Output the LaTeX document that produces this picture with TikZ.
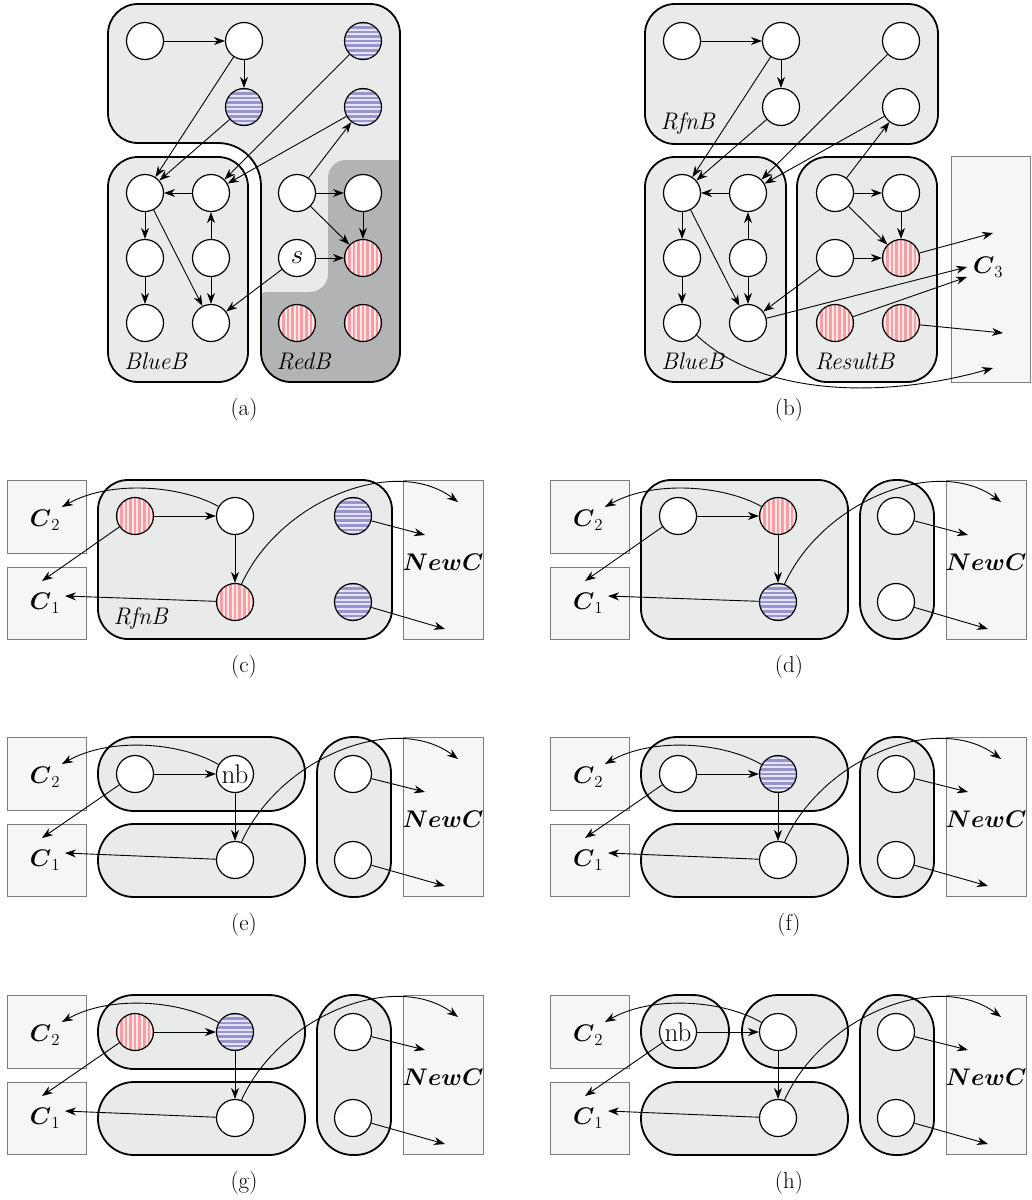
\RequirePackage{fix-cm}
\documentclass[tikz,border=0pt]{standalone}
\usepackage{amsmath, amssymb}
\usetikzlibrary{arrows.meta}

\definecolor{boxfill}{RGB}{233,235,234}
\definecolor{redbfill}{RGB}{178,179,181}
\definecolor{cfill}{RGB}{246,246,246}
\definecolor{cline}{RGB}{125,125,125}
\definecolor{bluest}{RGB}{150,150,205}
\definecolor{bluelt}{RGB}{228,228,246}
\definecolor{redst}{RGB}{245,158,164}
\definecolor{redlt}{RGB}{253,230,232}

\newcommand\redbshape{(138,4) -- (370,4) .. controls (386.6,4) and (400,17.4) .. (400,34) -- (400,352) .. controls (400,368.6) and (386.6,382) .. (370,382) -- (291,382) .. controls (274.4,382) and (261,368.6) .. (261,352) -- (261,186) .. controls (261,162.3) and (241.7,143) .. (218,143) -- (138,143) .. controls (121.4,143) and (108,129.6) .. (108,113) -- (108,34) .. controls (108,17.4) and (121.4,4) .. (138,4) -- cycle}

\newcommand\coreedges{%
\draw[arr] (p1) -- (p2);
\draw[arr] (p2) -- (p4);
\draw[arr] (p2) -- (b1);
\draw[arr] (p4) -- (b1);
\draw[arr] (p3) -- (b2);
\draw[arr] (p5) -- (b2);
\draw[arr] (r1) -- (p5);
\draw[arr] (r1) -- (r2);
\draw[arr] (r1) -- (r4);
\draw[arr] (r2) -- (r4);
\draw[arr] (r3) -- (r4);
\draw[arr] (r3) -- (b6);
\draw[arr] (b2) -- (b1);
\draw[arr] (b1) -- (b3);
\draw[arr] (b3) -- (b5);
\draw[arr] (b1) -- (b6);
\draw[arr] (b4) -- (b2);
\draw[arr] (b4) -- (b6);
}

\newcommand\sidecols{%
\draw[cbox] (7,0) rectangle (86,73);
\draw[cbox] (7,87) rectangle (86,159);
\draw[cbox] (403,0) rectangle (483,159);
\node[lbl] (c2) at (45,40) {$\boldsymbol{C}_2$};
\node[lbl] (c1) at (45,123) {$\boldsymbol{C}_1$};
\node[lbl] (newc) at (443,82) {$\boldsymbol{NewC}$};
\coordinate (toc2) at (62,27);
\coordinate (toc1a) at (42,101);
\coordinate (toc1b) at (65,116);
\coordinate (tonew) at (458,22);
\coordinate (tonewa) at (425,55);
\coordinate (tonewb) at (445,149);
\draw[arr] (v1) -- (v2);
\draw[arr] (v2) -- (v4);
\draw[arr] (v2.150) .. controls (180,5) and (110,0) .. (toc2);
\draw[arr] (v1) -- (toc1a);
\draw[arr] (v4) -- (toc1b);
\draw[arr] (v4.70) .. controls (280,20) and (395,-25) .. (tonew);
\draw[arr] (v3) -- (tonewa);
\draw[arr] (v5) -- (tonewb);
}

\begin{document}
\begin{tikzpicture}[x=1pt, y=-1pt,
  vtx/.style={circle, draw, line width=1.2pt, minimum size=37pt, inner sep=0pt, font=\fontsize{27}{30}\selectfont},
  wvtx/.style={vtx, fill=white},
  bvtx/.style={vtx, fill=bluelt, path picture={
    \foreach \k in {-5,...,5}
      \fill[bluest] ([shift={(-20pt,\k*4.6pt-1.3pt)}]path picture bounding box.center) rectangle +(40pt,2.6pt);}},
  rvtx/.style={vtx, fill=redlt, path picture={
    \foreach \k in {-5,...,5}
      \fill[redst] ([shift={(\k*4.6pt-1.3pt,-20pt)}]path picture bounding box.center) rectangle +(2.6pt,40pt);}},
  blk/.style={draw, line width=1.8pt, fill=boxfill, rounded corners=30pt},
  pill/.style={blk, rounded corners=36pt},
  cbox/.style={draw=cline, line width=0.7pt, fill=cfill},
  lbl/.style={font=\fontsize{24}{28}\selectfont},
  capt/.style={font=\fontsize{23}{27}\selectfont},
  arr/.style={-{Stealth[length=11pt, width=8pt, inset=3.5pt]}, line width=0.9pt}]
\useasboundingbox (0,0) rectangle (1032,1200);

\begin{scope}[name prefix=a-]
\fill[boxfill] \redbshape;
\begin{scope}
\clip \redbshape;
\fill[redbfill, rounded corners=18pt] (250,292) -- (328,292) -- (328,160) -- (420,160) -- (420,400) -- (250,400) -- cycle;
\end{scope}
\draw[line width=1.8pt] \redbshape;
\draw[blk] (108,157) rectangle (248,382);
\node[lbl] (bluelbl) at (156,361) {\textit{BlueB}};
\node[lbl] (redlbl) at (304,361) {\textit{RedB}};
\node[wvtx] (p1) at (145,41) {};
\node[wvtx] (p2) at (244,41) {};
\node[bvtx] (p3) at (363,41) {};
\node[bvtx] (p4) at (244,107) {};
\node[bvtx] (p5) at (363,107) {};
\node[wvtx] (b1) at (145,193) {};
\node[wvtx] (b2) at (211,193) {};
\node[wvtx] (b3) at (145,258) {};
\node[wvtx] (b4) at (211,258) {};
\node[wvtx] (b5) at (145,323) {};
\node[wvtx] (b6) at (211,323) {};
\node[wvtx] (r1) at (297,193) {};
\node[wvtx] (r2) at (363,193) {};
\node[wvtx] (r3) at (297,258) {$s$};
\node[rvtx] (r4) at (363,258) {};
\node[rvtx] (r5) at (297,323) {};
\node[rvtx] (r6) at (363,323) {};
\coreedges
\end{scope}

\begin{scope}[shift={(537,0)}, name prefix=b-]
\draw[blk] (108,4) rectangle (401,144);
\draw[blk] (108,157) rectangle (249,382);
\draw[blk] (260,157) rectangle (400,382);
\draw[cbox] (414,156) rectangle (493,382);
\node[lbl] (rfnlbl) at (151,123) {\textit{RfnB}};
\node[lbl] (bluelbl) at (156,361) {\textit{BlueB}};
\node[lbl] (reslbl) at (318,361) {\textit{ResultB}};
\node[lbl] (c3) at (451,267) {$\boldsymbol{C}_3$};
\node[wvtx] (p1) at (145,41) {};
\node[wvtx] (p2) at (244,41) {};
\node[wvtx] (p3) at (364,41) {};
\node[wvtx] (p4) at (244,107) {};
\node[wvtx] (p5) at (364,107) {};
\node[wvtx] (b1) at (145,193) {};
\node[wvtx] (b2) at (211,193) {};
\node[wvtx] (b3) at (145,258) {};
\node[wvtx] (b4) at (211,258) {};
\node[wvtx] (b5) at (145,323) {};
\node[wvtx] (b6) at (211,323) {};
\node[wvtx] (r1) at (298,193) {};
\node[wvtx] (r2) at (364,193) {};
\node[wvtx] (r3) at (298,258) {};
\node[rvtx] (r4) at (364,258) {};
\node[rvtx] (r5) at (298,323) {};
\node[rvtx] (r6) at (364,323) {};
\coreedges
\coordinate (c3a) at (456,233);
\coordinate (c3b) at (430,267);
\coordinate (c3c) at (430,277);
\coordinate (c3d) at (466,333);
\coordinate (c3e) at (456,368);
\draw[arr] (r4) -- (c3a);
\draw[arr] (b6) -- (c3b);
\draw[arr] (r5) -- (c3c);
\draw[arr] (r6) -- (c3d);
\draw[arr] (b5.-40) .. controls (223,395) and (343,400) .. (c3e);
\end{scope}

\begin{scope}[shift={(0,480)}, name prefix=c-]
\draw[blk] (98,0) rectangle (392,159);
\node[lbl] (rfnlbl) at (141,138) {\textit{RfnB}};
\node[rvtx] (v1) at (135,36) {};
\node[wvtx] (v2) at (235,36) {};
\node[bvtx] (v3) at (353,36) {};
\node[rvtx] (v4) at (235,122) {};
\node[bvtx] (v5) at (353,122) {};
\sidecols
\end{scope}

\begin{scope}[shift={(543,480)}, name prefix=d-]
\draw[blk] (98,0) rectangle (305,159);
\draw[pill] (317,0) rectangle (391,159);
\node[wvtx] (v1) at (135,36) {};
\node[rvtx] (v2) at (235,36) {};
\node[wvtx] (v3) at (353,36) {};
\node[bvtx] (v4) at (235,122) {};
\node[wvtx] (v5) at (353,122) {};
\sidecols
\end{scope}

\begin{scope}[shift={(0,737)}, name prefix=e-]
\draw[pill] (98,0) rectangle (305,74);
\draw[pill] (98,87) rectangle (305,160);
\draw[pill] (317,0) rectangle (391,160);
\node[wvtx] (v1) at (135,37) {};
\node[wvtx] (v2) at (235,37) {nb};
\node[wvtx] (v3) at (353,37) {};
\node[wvtx] (v4) at (235,123) {};
\node[wvtx] (v5) at (353,123) {};
\sidecols
\end{scope}

\begin{scope}[shift={(543,737)}, name prefix=f-]
\draw[pill] (98,0) rectangle (305,74);
\draw[pill] (98,87) rectangle (305,160);
\draw[pill] (317,0) rectangle (391,160);
\node[wvtx] (v1) at (135,37) {};
\node[bvtx] (v2) at (235,37) {};
\node[wvtx] (v3) at (353,37) {};
\node[wvtx] (v4) at (235,123) {};
\node[wvtx] (v5) at (353,123) {};
\sidecols
\end{scope}

\begin{scope}[shift={(0,995)}, name prefix=g-]
\draw[pill] (98,0) rectangle (305,74);
\draw[pill] (98,87) rectangle (305,160);
\draw[pill] (317,0) rectangle (391,160);
\node[rvtx] (v1) at (135,37) {};
\node[bvtx] (v2) at (235,37) {};
\node[wvtx] (v3) at (353,37) {};
\node[wvtx] (v4) at (235,123) {};
\node[wvtx] (v5) at (353,123) {};
\sidecols
\end{scope}

\begin{scope}[shift={(543,995)}, name prefix=h-]
\draw[pill] (98,0) rectangle (186,73);
\draw[pill] (199,0) rectangle (305,73);
\draw[pill] (98,87) rectangle (305,160);
\draw[pill] (317,0) rectangle (391,160);
\node[wvtx] (v1) at (135,37) {nb};
\node[wvtx] (v2) at (235,37) {};
\node[wvtx] (v3) at (353,37) {};
\node[wvtx] (v4) at (235,123) {};
\node[wvtx] (v5) at (353,123) {};
\sidecols
\end{scope}

\node[capt] (capa) at (244,410) {(a)};
\node[capt] (capb) at (789,410) {(b)};
\node[capt] (capc) at (244,667) {(c)};
\node[capt] (capd) at (789,667) {(d)};
\node[capt] (cape) at (244,925) {(e)};
\node[capt] (capf) at (789,925) {(f)};
\node[capt] (capg) at (244,1183) {(g)};
\node[capt] (caph) at (789,1183) {(h)};
\end{tikzpicture}
\end{document}
